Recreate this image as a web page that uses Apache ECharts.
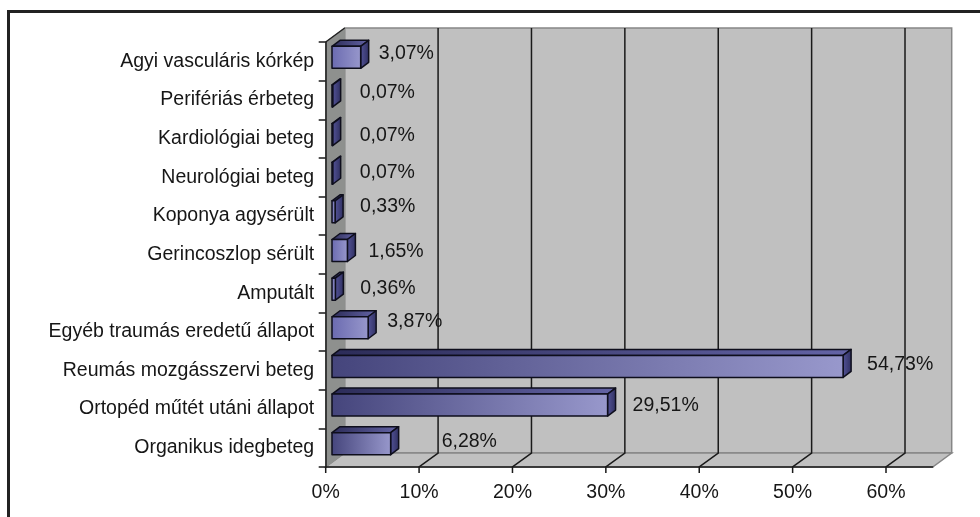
<!DOCTYPE html>
<html><head><meta charset="utf-8">
<style>html,body{margin:0;padding:0;background:#fff}#c{width:980px;height:517px}</style>
<script src="https://cdn.jsdelivr.net/npm/echarts@6/dist/echarts.min.js"></script>
</head><body><div id="c"></div>
<script>
const categories = ['Organikus idegbeteg','Ortopéd műtét utáni állapot','Reumás mozgásszervi beteg','Egyéb traumás eredetű állapot','Amputált','Gerincoszlop sérült','Koponya agysérült','Neurológiai beteg','Kardiológiai beteg','Perifériás érbeteg','Agyi vasculáris kórkép'];
const values = [6.28,29.51,54.73,3.87,0.36,1.65,0.33,0.07,0.07,0.07,3.07];
const xTicks = [0,10,20,30,40,50,60];
const xMax = 65;
// label placement nudges (px), not data
const labelGap = [51,25,24,19,25,21,25,27,27,27,18];
const labelRise = [6.5,3,6,10.5,5,3,9,4.5,3,7.5,8];
const DX = 19, DY = 14;          // depth of the 3D box
const BDX = 8, BDY = 6;          // depth of a bar
const BOX = 6.3, BOY = 4;        // bar's offset from the front plane
const BAR_H = 22;
const FONT = '"Liberation Sans", Arial, sans-serif';
const FS = 19.5;

const grad = (x2, y2, c0, c1) => new echarts.graphic.LinearGradient(0,0,x2,y2,[{offset:0,color:c0},{offset:1,color:c1}]);
const chart = echarts.init(document.getElementById('c'), null, {renderer:'canvas'});

function wallsItem(params, api) {
  const o = api.coord([0, 0]);
  const size = api.size([1, 1]);
  const x0 = o[0], y1 = o[1] + size[1] / 2;
  const x1 = api.coord([xMax, 0])[0];
  const y0 = y1 - size[1] * categories.length;
  const poly = (points, fill, stroke, w) => ({type:'polygon', shape:{points}, style:{fill, stroke, lineWidth:w}});
  const kids = [
    poly([[x0+DX,y0-DY],[x1+DX,y0-DY],[x1+DX,y1-DY],[x0+DX,y1-DY]], '#c0c0c0', '#868686', 1.5),
    poly([[x0,y1],[x0+DX,y1-DY],[x1+DX,y1-DY],[x1,y1]], '#c0c0c0', '#868686', 1.5),
    poly([[x0,y0],[x0+DX,y0-DY],[x0+DX,y1-DY],[x0,y1]], '#8e908e', '#8e908e', 1),
    {type:'line', shape:{x1:x0,y1:y0,x2:x0+DX,y2:y0-DY}, style:{stroke:'#222',lineWidth:1.5}}
  ];
  xTicks.forEach(t => {
    if (!t) return;
    const x = api.coord([t, 0])[0];
    kids.push({type:'polyline', shape:{points:[[x,y1+6],[x,y1],[x+DX,y1-DY],[x+DX,y0-DY]]}, style:{stroke:'#1a1a1a',lineWidth:1.5,fill:null}});
  });
  kids.push({type:'line', shape:{x1:x0,y1:y1+6,x2:x0,y2:y1}, style:{stroke:'#1a1a1a',lineWidth:1.5}});
  return {type:'group', children:kids};
}

function barItem(params, api) {
  const i = params.dataIndex, v = api.value(0);
  const base = api.coord([0, i]), end = api.coord([v, i]);
  const L = base[0] + BOX, R = end[0] + BOX;
  const T = base[1] - BOY - BAR_H / 2, B = T + BAR_H;
  const edge = {stroke:'#0e0e1c', lineWidth:1.5, lineJoin:'round'};
  const leftCol = v > 5 ? '#45457c' : '#6a6ab0';
  const text = v.toFixed(2).replace('.', ',') + '%';
  return {type:'group', children:[
    {type:'polygon', shape:{points:[[L,T],[L+BDX,T-BDY],[R+BDX,T-BDY],[R,T]]},
      style:Object.assign({fill:grad(1,0,'#2c2c58','#6464a6')}, edge)},
    {type:'polygon', shape:{points:[[R,T],[R+BDX,T-BDY],[R+BDX,B-BDY],[R,B]]},
      style:Object.assign({fill:grad(1,0,'#55559a','#2e2e5e')}, edge)},
    {type:'rect', shape:{x:L,y:T,width:R-L,height:BAR_H},
      style:Object.assign({fill:grad(1,0,leftCol,'#9898cc')}, edge)},
    {type:'text', style:{x:R+labelGap[i], y:base[1]-labelRise[i], text, fill:'#161616',
      font:FS+'px '+FONT, align:'left', verticalAlign:'middle'}}
  ]};
}

chart.setOption({
  animation:false,
  backgroundColor:'#fff',
  graphic:[{type:'polyline', z:100, silent:true,
    shape:{points:[[8.5,517],[8.5,11.5],[980,11.5]]},
    style:{stroke:'#222',lineWidth:3,fill:null}}],
  grid:{left:325.7, top:42, width:607, height:425, containLabel:false},
  xAxis:{type:'value', min:0, max:xMax, interval:10, z:5,
    axisLine:{show:true, lineStyle:{color:'#1a1a1a',width:1.5}},
    axisTick:{show:false},
    splitLine:{show:false},
    axisLabel:{margin:16, color:'#161616', fontFamily:FONT, fontSize:FS,
      customValues:xTicks, formatter:v=>v+'%'}},
  yAxis:{type:'category', data:categories, z:5,
    axisLine:{show:true, lineStyle:{color:'#1a1a1a',width:1.5}},
    axisTick:{show:true, length:7, lineStyle:{color:'#1a1a1a',width:1.5}},
    axisLabel:{margin:11.5, color:'#161616', fontFamily:FONT, fontSize:FS, interval:0},
    splitLine:{show:false}},
  series:[
    {type:'custom', data:[[0]], encode:{x:0}, renderItem:wallsItem, silent:true, z:1, clip:false},
    {type:'custom', data:values.map(v=>[v]), encode:{x:0}, renderItem:barItem, silent:true, z:6, clip:false}
  ]
});
</script></body></html>
